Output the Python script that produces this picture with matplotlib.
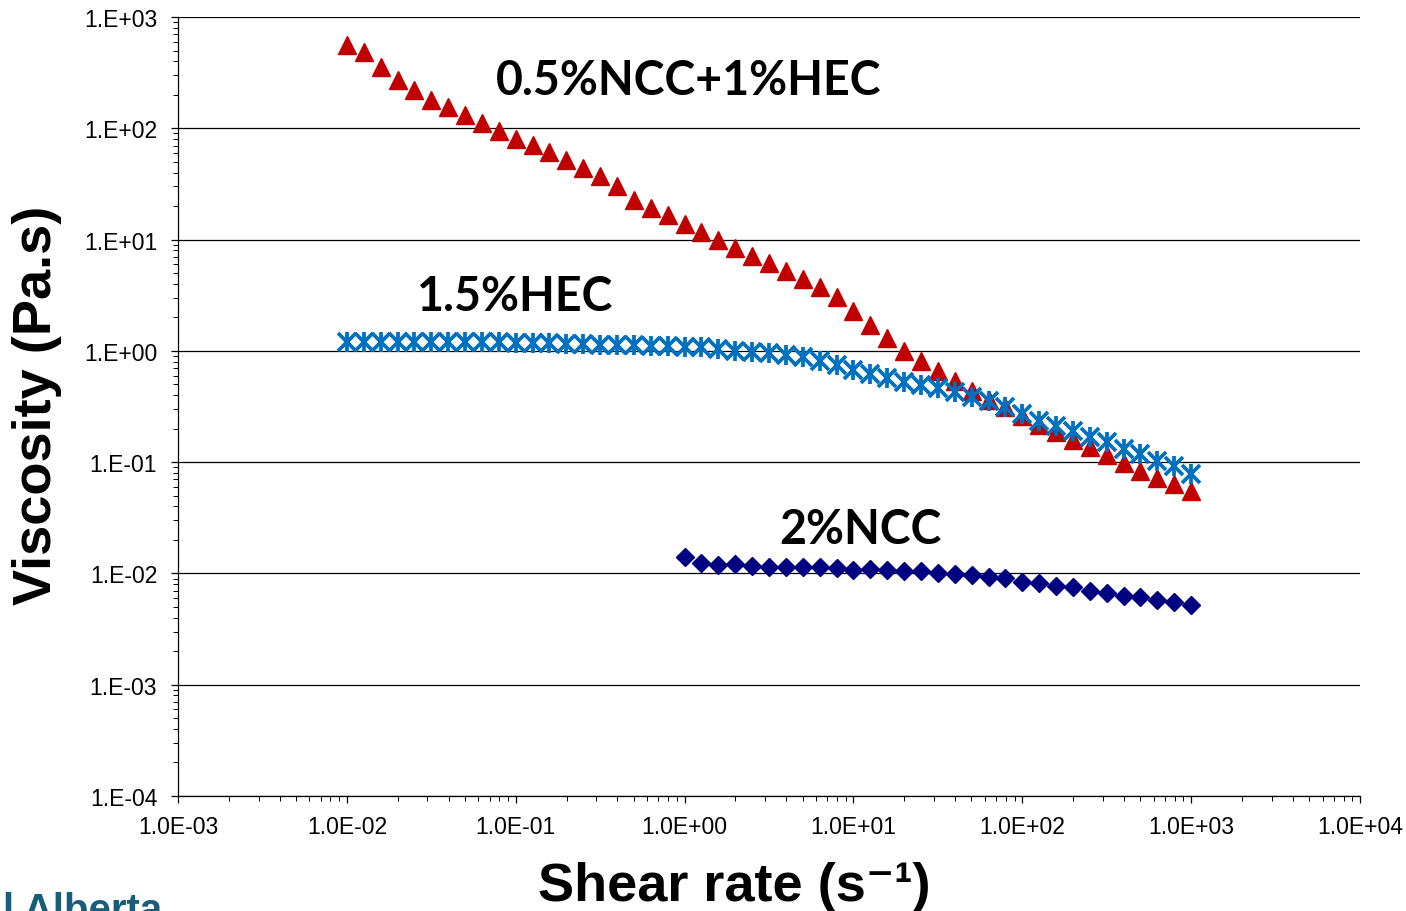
import numpy as np
import matplotlib
matplotlib.use("Agg")
import matplotlib.pyplot as plt
from matplotlib.ticker import LogLocator, FuncFormatter, NullFormatter

# shear rate (1/s), 10 points per decade
rate_hec = np.logspace(-2, 3, 51)
rate_ncc = np.logspace(0, 3, 31)

# viscosity (Pa.s)
visc_mix = [557, 485, 353, 273, 222, 181, 154, 131, 112, 95.0,
            80.6, 70.3, 60.8, 51.6, 44.0, 37.0, 30.1, 22.8, 19.2, 16.5,
            13.8, 11.7, 9.86, 8.40, 7.16, 6.16, 5.25, 4.45, 3.72, 3.03,
            2.30, 1.72, 1.31, 1.00, 0.805, 0.655, 0.533, 0.439, 0.364, 0.311,
            0.258, 0.217, 0.185, 0.159, 0.136, 0.115, 0.0983, 0.0828, 0.0720, 0.0638,
            0.0553]
visc_hec = [1.19, 1.19, 1.20, 1.20, 1.20, 1.20, 1.20, 1.19, 1.19, 1.19,
            1.18, 1.18, 1.165, 1.153, 1.15, 1.14, 1.13, 1.12, 1.117, 1.106,
            1.094, 1.077, 1.039, 1.003, 0.977, 0.947, 0.909, 0.872, 0.816, 0.746,
            0.673, 0.620, 0.567, 0.528, 0.494, 0.461, 0.424, 0.385, 0.354, 0.313,
            0.271, 0.236, 0.213, 0.192, 0.167, 0.151, 0.131, 0.118, 0.103, 0.0918,
            0.0782]
visc_ncc = [0.01397, 0.01241, 0.01191, 0.01216, 0.01159, 0.01135, 0.01135, 0.01135, 0.01135, 0.01112,
            0.01081, 0.01096, 0.01081, 0.01058, 0.01058, 0.01003, 0.00989, 0.00968, 0.00923, 0.00910,
            0.00832, 0.00815, 0.00776, 0.00751, 0.00700, 0.00667, 0.00631, 0.00611, 0.00577, 0.00550,
            0.00524]

labels = ["0.5%NCC+1%HEC", "1.5%HEC", "2%NCC"]

plt.rcParams['font.family'] = ['Liberation Sans', 'DejaVu Sans']

fig = plt.figure(figsize=(14.06, 9.12), dpi=100)
ax = fig.add_axes([178/1406, 115/912, 1182/1406, 779/912])

ax.plot(rate_hec, visc_mix, ls='none', marker='^', ms=13.5, color='#C00000', zorder=3)
# Excel "star" marker = x with a vertical bar
ax.plot(rate_hec, visc_hec, ls='none', marker='x', ms=12.5, mew=2.7, color='#0070C0', zorder=4)
ax.plot(rate_hec, visc_hec, ls='none', marker='|', ms=14.5, mew=2.7, color='#0070C0', zorder=4)
ax.plot(rate_ncc, visc_ncc, ls='none', marker='D', ms=9, color='#000080', zorder=3)

ax.set_xscale('log')
ax.set_yscale('log')
ax.set_xlim(1e-3, 1e4)
ax.set_ylim(1e-4, 1e3)

ax.xaxis.set_major_locator(LogLocator(base=10, numticks=20))
ax.yaxis.set_major_locator(LogLocator(base=10, numticks=20))
ax.xaxis.set_minor_locator(LogLocator(base=10, subs=np.arange(2, 10), numticks=20))
ax.yaxis.set_minor_locator(LogLocator(base=10, subs=np.arange(2, 10), numticks=20))
ax.xaxis.set_minor_formatter(NullFormatter())
ax.yaxis.set_minor_formatter(NullFormatter())
ax.xaxis.set_major_formatter(FuncFormatter(lambda v, p: "%.1E" % v))
ax.yaxis.set_major_formatter(FuncFormatter(lambda v, p: ("%.0E" % v).replace("E", ".E")))

ax.grid(True, axis='y', which='major', color='black', lw=0.9)
ax.set_axisbelow(True)
for s in ['top', 'right']:
    ax.spines[s].set_visible(False)
for s in ['left', 'bottom']:
    ax.spines[s].set_linewidth(0.9)

ax.tick_params(which='major', direction='out', length=5, width=0.9, labelsize=16.5, colors='black')
ax.tick_params(which='minor', direction='out', length=3.5, width=0.7)
ax.tick_params(axis='y', which='major', pad=10)
ax.tick_params(axis='x', which='major', pad=9)

ax.set_xlabel("Shear rate (s\u207b\u00b9)", fontsize=39, fontweight='bold')
ax.set_ylabel("Viscosity (Pa.s)", fontsize=39, fontweight='bold')
ax.xaxis.set_label_coords(0.471, -0.083)
ax.yaxis.set_label_coords(-0.098, 0.503)

note_font = dict(family=['Lato', 'DejaVu Sans'], fontweight='bold', fontsize=33.5,
                 ha='center', va='center', transform=ax.transAxes)
ax.text(0.432, 0.919, labels[0], **note_font)
ax.text(0.285, 0.642, labels[1], **note_font)
ax.text(0.577, 0.343, labels[2], **note_font)

fig.text(3/1406, -10/912, "l Alberta", fontsize=29, fontweight='bold',
         color='#175E7A', ha='left', va='baseline')

fig.savefig("out.png", dpi=100)
